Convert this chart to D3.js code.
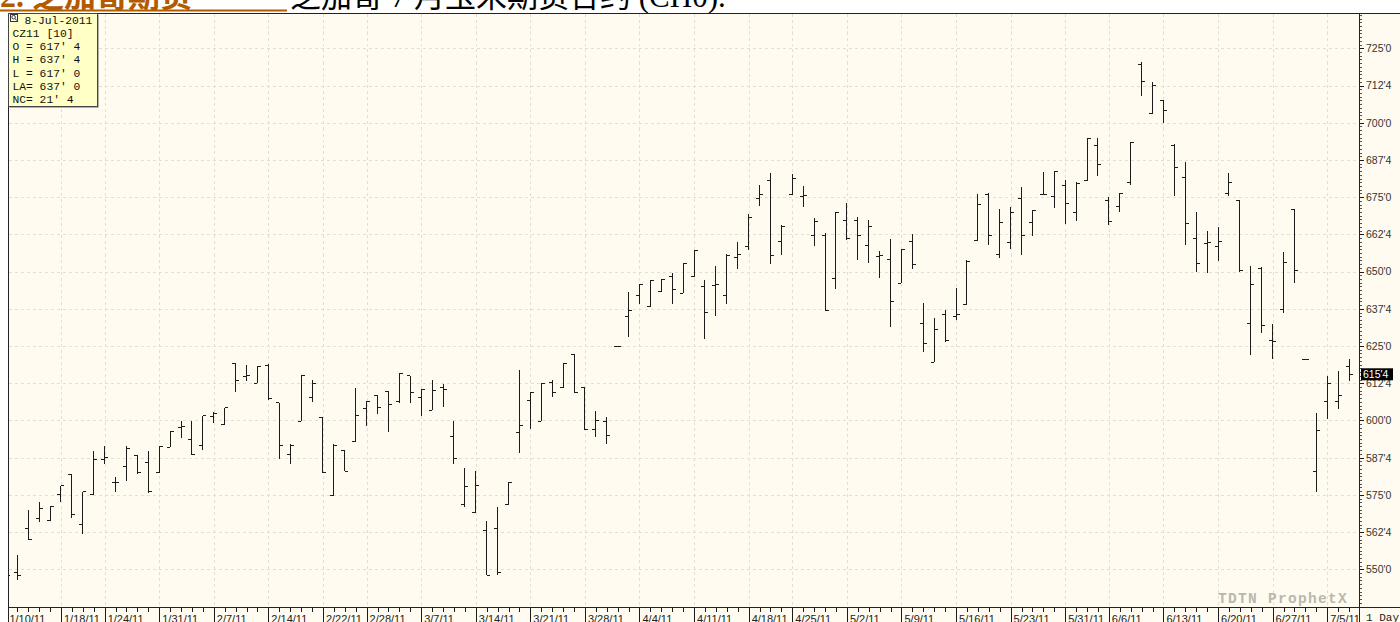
<!DOCTYPE html>
<html>
<head>
<meta charset="utf-8">
<script src="https://cdnjs.cloudflare.com/ajax/libs/d3/7.8.5/d3.min.js"></script>
<style>
  body { margin: 0; background: #fff; overflow: hidden; }
  svg { display: block; }
</style>
</head>
<body>
<script>
const WIDTH = 1400;
const HEIGHT = 622;
const PLOT_LEFT = 8.5, PLOT_TOP = 13.5, PLOT_RIGHT = 1359.5, PLOT_BOTTOM = 607.5;

// trading days shown (1/10 is mostly cut off by the left border)
const dates = [
  "1/10","1/11","1/12","1/13","1/14","1/18","1/19","1/20","1/21","1/24","1/25","1/26","1/27","1/28","1/31",
  "2/1","2/2","2/3","2/4","2/7","2/8","2/9","2/10","2/11","2/14","2/15","2/16","2/17","2/18","2/22","2/23","2/24","2/25","2/28",
  "3/1","3/2","3/3","3/4","3/7","3/8","3/9","3/10","3/11","3/14","3/15","3/16","3/17","3/18","3/21","3/22","3/23","3/24","3/25","3/28","3/29","3/30","3/31",
  "4/1","4/4","4/5","4/6","4/7","4/8","4/11","4/12","4/13","4/14","4/15","4/18","4/19","4/20","4/21","4/25","4/26","4/27","4/28","4/29",
  "5/2","5/3","5/4","5/5","5/6","5/9","5/10","5/11","5/12","5/13","5/16","5/17","5/18","5/19","5/20","5/23","5/24","5/25","5/26","5/27","5/31",
  "6/1","6/2","6/3","6/6","6/7","6/8","6/9","6/10","6/13","6/14","6/15","6/16","6/17","6/20","6/21","6/22","6/23","6/24","6/27","6/28","6/29","6/30",
  "7/1","7/5","7/6","7/7"
];

const opens = [
  550,549,563.75,567,566.25,575.25,582,565,575,587,579,584.5,588.25,586,582.5,
  591,597.5,593.5,591.5,601.25,598.5,619,614.75,612.5,618.5,606,588.5,599.75,607.75,601,574.75,589.75,593,604,
  608.25,609.75,606.25,615,607.75,603.5,611,594.75,571.75,569,563,563.75,571.75,596,606.75,599.75,612.75,611,622.25,611,597,599.5,625,
  635,642,638.25,643.25,648.25,642.75,648.5,645,645.25,642,654.75,658.5,674.5,680.75,660,675.75,675.25,662,662.25,647.75,
  667,667,658.75,655,654,646,660,632.5,619.5,635.5,635,639,660.5,676,655.75,659.75,674.5,666.5,676,675.25,678.75,
  670,680.5,692.25,673.75,671.75,680,719.5,703.25,707.5,692.25,681.75,661,659.5,658.5,676.25,673.75,632.5,651,627,637.25,671,620.5,
  583,606.25,606.25,618
];

const highs = [
  553,554.75,570,572.75,571.25,578,582,576,589.75,591.5,581,591.5,588.25,589.75,591.5,
  596.5,599.75,599.75,601.5,603,604.25,619,618.5,618,619,606,592.25,615.25,613.75,601,592,589.75,611,606.5,
  608.25,609.75,615.75,615,610.5,613.5,612.25,599.75,584,583,566.25,571,579.25,617,609.5,612.25,613.5,619,622.25,611,603.25,601,625,
  643,645.5,647,647.5,649.5,652.75,657,647.25,652,655.75,660,669.25,679,683,665.75,682.75,678.75,668,663,670,
  673,668.5,667.25,656.75,661,657.5,662.5,639.5,634.25,637.25,644.5,653.75,676,676.25,671,671.75,678.25,670.5,683.5,683.75,680.75,
  680,694.75,694.75,675,676.5,693.5,720.25,713.75,707.5,692.75,686.75,670,663.5,665,683.25,674,652,651.5,632.5,656.5,671,620.5,
  602.5,615,616.5,620.5
];

const lows = [
  546,546.25,559.75,566,566.25,572.75,567.25,561.75,575,585.5,576,579.75,582,575.5,582.5,
  591,594.25,588.25,590,599,598.5,609.5,613.25,612.5,607,587,585.5,599.75,606.25,582.5,574.75,583,593,598.25,
  602.25,596.25,606,606,601.5,603.5,604.5,585.25,571,569,548,548.25,571.75,589,597,599.75,608,611,609.25,596.75,594.5,592,625,
  628,639,638.25,643,639,642.75,648.25,627.5,635,639,650.75,657.25,672,652.5,655.5,675.75,671.75,658.5,637,644.25,
  660.5,654,653,648,631.5,646,651,623,619.5,626.25,633.75,639,660.5,659,654.5,657.5,655.5,662,675.75,671.5,666,
  667,680.5,682,665.75,670,679,709,703.25,699.75,675.25,659,650,649.5,653.5,675.25,650,622,629.25,620.5,636,646,620.5,
  576,600.5,604,613.25
];

const closes = [
  548,548,560,570.5,571.25,578,568.25,576,587,587.5,579.25,590.5,582.5,576.25,591.25,
  596.25,598,588.5,601.5,602.25,604.25,613.25,615,618,607.25,591.75,591.75,615.25,612.5,582.5,591.75,583,601.5,606.5,
  604.5,605.5,615.75,609.5,610.5,610,610.25,587.25,577.75,578,548,549,579.25,598.25,609.5,612.25,609.5,619,609.5,597,600,595,625,
  637,645.5,647,647.5,644,652.75,657,636.25,645.5,655.5,655.75,668,676,655.25,665,681.25,675.5,666.75,637,669.75,
  661,662,665.25,655.25,640,657.5,652.5,626,630.5,626.75,635.5,653.25,672.5,662,666.5,670,662.25,670.5,676,683.75,673,
  679.5,694.75,686,666.75,676.25,693.5,713.75,712.5,704.25,685,666,652.75,659.75,660,680,650.25,645.75,631.75,626.5,653,650.5,620.5,
  596.5,612.5,608.25,615.5
];

const weekStarts = ["1/10","1/18","1/24","1/31","2/7","2/14","2/22","2/28","3/7","3/14","3/21","3/28",
  "4/4","4/11","4/18","4/25","5/2","5/9","5/16","5/23","5/31","6/6","6/13","6/20","6/27","7/5"];

const yTicks = [550, 562.5, 575, 587.5, 600, 612.5, 625, 637.5, 650, 662.5, 675, 687.5, 700, 712.5, 725];
const lastPrice = 615.5;

const infoLines = ["8-Jul-2011", "CZ11 [10]", "O = 617' 4", "H = 637' 4", "L = 617' 0", "LA= 637' 0", "NC= 21' 4"];

const BG = "#fffbf0";
const GRID = "#e4dfd2";
const INK = "#1c1c1c";

// 617.5 -> "617'4" (eighths of a cent)
function priceFormat(v) {
  const whole = Math.floor(v);
  return whole + "'" + Math.round((v - whole) * 8);
}

const x = d3.scalePoint().domain(dates).range([6.4, 1349]);
const y = d3.scaleLinear().domain([550, 725]).range([569.3, 48.3]);

const svg = d3.select("body").append("svg")
    .attr("width", WIDTH)
    .attr("height", HEIGHT);

function setTitle() {
  const cjk = "'Liberation Serif', 'Noto Sans CJK SC', serif";
  svg.append("text")
      .attr("x", 0)
      .attr("y", 7)
      .style("font-family", cjk)
      .style("font-size", "32px")
      .style("font-weight", "bold")
      .style("fill", "#b35a00")
      .text("2. 芝加哥期货");
  svg.append("rect")
      .attr("x", 0).attr("y", 9.5)
      .attr("width", 287).attr("height", 2)
      .style("fill", "#b35a00");
  svg.append("text")
      .attr("x", 290)
      .attr("y", 7)
      .style("font-family", cjk)
      .style("font-size", "31px")
      .style("fill", "#000")
      .text("芝加哥 7 月玉米期货合约 (CH0).");
}

function setUpChart() {
  svg.append("rect")
      .attr("x", PLOT_LEFT).attr("y", PLOT_TOP)
      .attr("width", WIDTH - PLOT_LEFT).attr("height", HEIGHT - PLOT_TOP)
      .style("fill", BG);

  const defs = svg.append("defs");
  defs.append("clipPath").attr("id", "plot-clip")
    .append("rect")
      .attr("x", PLOT_LEFT).attr("y", PLOT_TOP)
      .attr("width", PLOT_RIGHT - PLOT_LEFT).attr("height", PLOT_BOTTOM - PLOT_TOP);
  defs.append("clipPath").attr("id", "xaxis-clip")
    .append("rect")
      .attr("x", PLOT_LEFT).attr("y", PLOT_BOTTOM)
      .attr("width", PLOT_RIGHT - PLOT_LEFT).attr("height", HEIGHT - PLOT_BOTTOM);

  // dashed grid
  const grid = svg.append("g").attr("clip-path", "url(#plot-clip)")
      .style("stroke", GRID).style("stroke-dasharray", "3,3")
      .attr("shape-rendering", "crispEdges");
  grid.selectAll(".hgrid").data(yTicks).enter().append("line")
      .attr("x1", PLOT_LEFT).attr("x2", PLOT_RIGHT)
      .attr("y1", d => Math.round(y(d)) + 0.5).attr("y2", d => Math.round(y(d)) + 0.5);
  grid.selectAll(".vgrid").data(weekStarts).enter().append("line")
      .attr("x1", d => Math.round(x(d)) + 0.5).attr("x2", d => Math.round(x(d)) + 0.5)
      .attr("y1", PLOT_TOP).attr("y2", PLOT_BOTTOM);
}

function addAxes() {
  // x axis: a short tick for every day, a long tick + label at each week start
  const xg = svg.append("g").attr("clip-path", "url(#xaxis-clip)");
  xg.append("g")
      .attr("transform", "translate(0," + PLOT_BOTTOM + ")")
      .call(d3.axisBottom(x).tickSize(4).tickFormat(""))
      .call(g => g.select(".domain").remove());
  xg.append("g")
      .attr("transform", "translate(0," + PLOT_BOTTOM + ")")
      .call(d3.axisBottom(x).tickValues(weekStarts).tickSize(16).tickFormat(d => d + "/11"))
      .call(g => g.select(".domain").remove())
      .call(g => g.selectAll("text")
          .attr("x", 2.5).attr("y", 15.5).attr("dy", null)
          .attr("text-anchor", "start")
          .style("font-family", "'Liberation Sans', Arial, sans-serif")
          .style("font-size", "11px")
          .style("fill", "#222"));
  xg.selectAll("line").style("stroke", INK).attr("shape-rendering", "crispEdges");

  // y axis on the right
  const minor = d3.range(537.5, 740, 1.25).filter(v => y(v) > PLOT_TOP && y(v) < PLOT_BOTTOM);
  svg.append("g")
      .attr("transform", "translate(" + PLOT_RIGHT + ",0)")
      .call(d3.axisRight(y).tickValues(minor).tickSize(2).tickSizeOuter(0).tickFormat(""))
      .call(g => g.select(".domain").remove())
      .call(g => g.selectAll("line").style("stroke", "#555").attr("shape-rendering", "crispEdges"));
  svg.append("g")
      .attr("transform", "translate(" + PLOT_RIGHT + ",0)")
      .call(d3.axisRight(y).tickValues(yTicks).tickSize(4).tickSizeOuter(0).tickPadding(2.5).tickFormat(priceFormat))
      .call(g => g.select(".domain").remove())
      .call(g => g.selectAll("line").style("stroke", INK).attr("shape-rendering", "crispEdges"))
      .call(g => g.selectAll("text")
          .style("font-family", "'Liberation Sans', Arial, sans-serif")
          .style("font-size", "10.5px")
          .style("fill", "#333"));

  // frame
  const frame = svg.append("g").style("stroke", "#222").attr("shape-rendering", "crispEdges");
  frame.append("line").attr("x1", PLOT_LEFT).attr("x2", WIDTH).attr("y1", PLOT_TOP).attr("y2", PLOT_TOP);
  frame.append("line").attr("x1", PLOT_LEFT).attr("x2", PLOT_LEFT).attr("y1", PLOT_TOP).attr("y2", HEIGHT);
  frame.append("line").attr("x1", PLOT_LEFT).attr("x2", WIDTH).attr("y1", PLOT_BOTTOM).attr("y2", PLOT_BOTTOM);
  frame.append("line").attr("x1", PLOT_RIGHT).attr("x2", PLOT_RIGHT).attr("y1", PLOT_TOP).attr("y2", HEIGHT);

  svg.append("text")
      .attr("x", 1366).attr("y", 621)
      .style("font-family", "'Liberation Mono', monospace")
      .style("font-size", "11px")
      .style("fill", "#222")
      .text("1 Day");

  // last price marker
  const ly = y(lastPrice);
  svg.append("rect")
      .attr("x", 1361).attr("y", ly - 6)
      .attr("width", 32).attr("height", 12)
      .style("fill", "#000");
  svg.append("text")
      .attr("x", 1363).attr("y", ly + 3.8)
      .style("font-family", "'Liberation Sans', Arial, sans-serif")
      .style("font-size", "10.5px")
      .style("fill", "#fff")
      .text(priceFormat(lastPrice));
}

// OHLC bars: vertical high-low, open tick to the left, close tick to the right
function drawBars() {
  const TICK = 3.5;
  const bars = svg.append("g")
      .attr("clip-path", "url(#plot-clip)")
      .style("stroke", INK)
      .style("stroke-width", 1)
      .attr("shape-rendering", "crispEdges")
    .selectAll("g")
    .data(dates.map((d, i) => ({ date: d, o: opens[i], h: highs[i], l: lows[i], c: closes[i] })))
    .enter().append("g");

  bars.append("line")
      .attr("x1", d => x(d.date)).attr("x2", d => x(d.date))
      .attr("y1", d => y(d.h)).attr("y2", d => y(d.l));
  bars.append("line")
      .attr("x1", d => x(d.date) - TICK).attr("x2", d => x(d.date))
      .attr("y1", d => y(d.o)).attr("y2", d => y(d.o));
  bars.append("line")
      .attr("x1", d => x(d.date)).attr("x2", d => x(d.date) + TICK)
      .attr("y1", d => y(d.c)).attr("y2", d => y(d.c));
}

function drawInfoBox() {
  const g = svg.append("g");
  g.append("rect")
      .attr("x", 9.5).attr("y", 14.5)
      .attr("width", 89).attr("height", 93)
      .style("fill", "#666");
  g.append("rect")
      .attr("x", 8.5).attr("y", 13.5)
      .attr("width", 89).attr("height", 93)
      .style("fill", "#ffffc6")
      .style("stroke", "#444")
      .attr("shape-rendering", "crispEdges");

  // small magnifier icon
  g.append("rect").attr("x", 10.5).attr("y", 14.5).attr("width", 7).attr("height", 6.5)
      .style("fill", "#fff").style("stroke", "#333").attr("shape-rendering", "crispEdges");
  g.append("circle").attr("cx", 13.6).attr("cy", 17.2).attr("r", 1.8)
      .style("fill", "none").style("stroke", "#333");
  g.append("line").attr("x1", 15).attr("y1", 18.6).attr("x2", 16.8).attr("y2", 20.3)
      .style("stroke", "#333");

  g.selectAll(".info").data(infoLines).enter().append("text")
      .attr("x", (d, i) => i === 0 ? 24.5 : 12.5)
      .attr("y", (d, i) => 23.8 + i * 13.2)
      .attr("xml:space", "preserve")
      .style("white-space", "pre")
      .style("font-family", "'Liberation Mono', monospace")
      .style("font-size", "11.3px")
      .style("fill", "#111")
      .text(d => d);
}

function drawWatermark() {
  svg.append("text")
      .attr("x", 1218).attr("y", 603)
      .style("font-family", "'Liberation Mono', monospace")
      .style("font-weight", "bold")
      .style("font-size", "14.5px")
      .style("letter-spacing", "1.3px")
      .style("fill", "#b9b8ae")
      .text("TDTN ProphetX");
}

setTitle();
setUpChart();
drawWatermark();
drawBars();
addAxes();
drawInfoBox();
</script>
</body>
</html>
